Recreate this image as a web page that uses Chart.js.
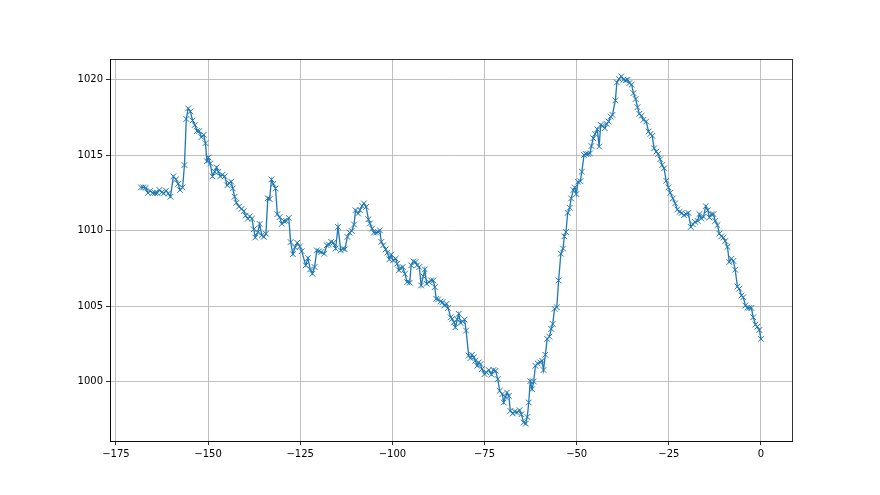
<!DOCTYPE html>
<html>
<head>
<meta charset="utf-8">
<script src="https://cdn.jsdelivr.net/npm/chart.js@4"></script>
<style>
  html, body { margin: 0; padding: 0; background: #fff; }
</style>
</head>
<body>
<canvas id="pressureChart" width="880" height="495"></canvas>
<script>
// hours relative to now
const hours = [
  -168.2, -167.6, -166.9, -166.3, -165.7, -165.0, -164.4, -163.8, -163.2, -162.5,
  -162.0, -161.4, -160.8, -160.2, -159.4, -158.7, -158.1, -157.6, -156.9, -156.4,
  -155.9, -155.4, -154.8, -154.2, -153.6, -153.0, -152.4, -151.8, -151.2, -150.7,
  -150.3, -149.9, -149.4, -148.8, -148.2, -147.7, -147.2, -146.7, -146.1, -145.5,
  -144.8, -144.3, -143.7, -143.3, -142.8, -142.3, -141.6, -140.9, -140.3, -139.8,
  -139.2, -138.7, -138.1, -137.6, -137.2, -136.5, -136.0, -135.4, -134.9, -134.3,
  -133.8, -133.3, -132.8, -132.3, -131.7, -131.2, -130.6, -130.0, -129.4, -128.8,
  -128.1, -127.6, -127.0, -126.4, -125.8, -125.1, -124.6,
  -123.5, -122.9, -122.3, -121.7, -121.1, -120.5, -119.9, -119.3, -118.5, -117.8,
  -117.2, -116.6, -116.0, -115.4, -114.75, -114.0, -113.4, -112.9, -112.2, -111.6,
  -111.05, -110.4, -110.0, -109.3, -108.8, -108.2, -107.7, -107.1, -106.5, -106.1,
  -105.5, -105.0, -104.4, -103.9, -103.4, -103.0, -102.5, -101.8, -101.4, -100.8,
  -100.3, -99.8, -99.1, -98.7, -98.2, -97.8, -97.2, -96.6, -96.0, -95.3,
  -94.9, -94.3, -93.7, -93.3, -92.7, -92.2, -91.6, -91.2, -90.7, -90.1,
  -89.5, -88.9, -88.5, -88.1, -87.6, -86.9, -86.4, -85.9, -85.3, -84.9,
  -84.2, -83.8, -83.3, -82.9, -82.4, -82.0, -81.5, -81.0, -80.4, -80.0,
  -79.3, -78.8, -78.4, -77.9, -77.5, -77.0, -76.6, -76.1, -75.7, -75.0,
  -74.5, -73.85, -73.1, -72.6, -72.0, -71.4, -70.9, -70.2, -69.8, -69.3,
  -68.9, -68.4, -68.0, -67.35, -66.8, -66.2, -65.5, -65.0, -64.4, -63.8,
  -63.4, -63.0, -62.6, -62.1, -61.65, -61.2, -60.6, -59.9, -59.4, -59.0,
  -58.5, -58.0, -57.4, -56.9, -56.5, -56.0, -55.4, -54.9, -54.3, -53.7,
  -53.35, -52.9, -52.45, -51.9, -51.5, -50.9, -50.55, -50.1, -49.65, -49.0,
  -48.6, -48.0, -47.5, -47.0, -46.4, -46.0, -45.5, -45.0, -44.4, -43.9,
  -43.5, -43.0, -42.4, -41.9, -41.35, -40.8, -40.3, -39.5,
  -39.1, -38.5, -37.9, -37.3, -36.75, -36.2, -35.7, -35.1, -34.6, -34.0,
  -33.5, -33.0, -32.4, -31.9, -31.15, -30.5, -30.0, -29.5, -29.0, -28.4,
  -27.9, -27.35, -26.8, -26.3, -25.7, -25.1, -24.6, -23.9, -23.3, -22.7,
  -22.1, -21.5, -20.9, -20.3, -19.7, -19.05, -18.5, -17.9, -17.2, -16.7,
  -16.2, -15.6, -15.0, -14.45, -14.0, -13.45, -12.9, -12.4, -11.8, -11.3,
  -10.75, -10.2, -9.7, -9.1, -8.6, -8.0, -7.5, -7.0, -6.4, -5.9,
  -5.3, -4.8, -4.25, -3.7, -3.15, -2.6, -2.1, -1.5, -1.0, -0.45,
  0
];

// pressure in hPa, same order as hours
const pressure = [
  1012.87, 1012.87, 1012.85, 1012.5, 1012.65, 1012.5, 1012.5, 1012.5, 1012.7, 1012.55,
  1012.47, 1012.65, 1012.47, 1012.25, 1013.6, 1013.4, 1013.1, 1012.7, 1012.87, 1014.35,
  1017.4, 1018.1, 1017.9, 1017.3, 1017.0, 1016.6, 1016.6, 1016.2, 1016.35, 1015.8,
  1014.6, 1014.85, 1014.45, 1013.6, 1013.9, 1014.2, 1013.9, 1013.6, 1013.7, 1013.6,
  1013.0, 1013.15, 1013.25, 1012.8, 1012.25, 1011.85, 1011.6, 1011.45, 1011.3, 1011.0,
  1010.8, 1010.95, 1010.8, 1010.1, 1009.55, 1009.9, 1010.45, 1009.7, 1009.6, 1009.8,
  1012.15, 1012.1, 1013.4, 1013.1, 1012.8, 1011.1, 1010.9, 1010.45, 1010.65, 1010.65,
  1010.85, 1009.25, 1008.45, 1008.9, 1009.2, 1008.95, 1008.65,
  1007.71, 1008.19, 1007.44, 1007.15, 1007.6, 1008.7, 1008.64, 1008.59, 1008.48, 1009.04,
  1009.08, 1009.26, 1009.21, 1008.82, 1010.25, 1008.7, 1008.82, 1008.77, 1009.59, 1009.88,
  1009.99, 1010.41, 1011.36, 1011.14, 1011.36, 1011.65, 1011.81, 1011.58, 1010.76, 1010.48,
  1010.14, 1009.88, 1009.88, 1009.92, 1010.03, 1009.26, 1009.04, 1008.77, 1008.55, 1008.11,
  1008.42, 1008.04, 1008.15, 1007.82, 1007.38, 1007.53, 1007.6, 1007.15, 1006.6, 1006.56,
  1007.71, 1007.97, 1007.93, 1007.71, 1007.6, 1006.38, 1006.98, 1007.44, 1006.49, 1006.6,
  1006.71, 1006.71, 1006.27, 1005.49, 1005.45, 1005.32, 1005.27, 1005.05, 1005.16, 1004.89,
  1004.27, 1004.16, 1003.94, 1003.61, 1004.12, 1004.5, 1003.9, 1003.99, 1004.12, 1003.39,
  1001.73, 1001.57, 1001.79, 1001.62, 1001.4, 1001.06, 1001.28, 1001.17, 1000.84, 1000.51,
  1000.62, 1000.78, 1000.47, 1000.78, 1000.73, 1000.18, 999.4, 999.18, 998.63, 999.0,
  999.29, 999.07, 998.07, 997.9, 998.03, 997.97, 998.12, 997.85, 997.3, 997.23,
  997.67, 998.63, 1000.04, 999.51, 1000.02, 1001.06, 1001.22, 1001.28, 1001.4, 1000.78,
  1001.79, 1002.84, 1002.99, 1003.5, 1003.83, 1004.83, 1004.94, 1006.71, 1008.48, 1008.82,
  1009.63, 1009.92, 1011.18, 1011.52, 1012.14, 1012.69, 1012.87, 1012.43, 1013.24, 1013.28,
  1013.91, 1015.02, 1015.08, 1015.08, 1015.12, 1015.61, 1016.12, 1016.41, 1016.72, 1015.57,
  1017.01, 1016.94, 1016.79, 1017.08, 1017.23, 1017.56, 1017.67, 1018.63,
  1019.82, 1020.04, 1020.22, 1020.0, 1019.96, 1020.0, 1019.78, 1019.67, 1019.11, 1018.72,
  1018.18, 1017.74, 1017.61, 1017.34, 1017.23, 1016.57, 1016.41, 1016.28, 1015.46, 1015.24,
  1015.08, 1014.73, 1014.35, 1014.13, 1013.31, 1012.87, 1012.51, 1012.14, 1011.81, 1011.41,
  1011.25, 1011.18, 1011.03, 1011.1, 1011.18, 1010.25, 1010.43, 1010.59, 1010.65, 1011.1,
  1010.81, 1010.92, 1011.63, 1011.36, 1010.88, 1011.1, 1011.1, 1010.65, 1010.37, 1009.81,
  1009.63, 1009.55, 1009.32, 1008.93, 1007.93, 1008.15, 1008.0, 1007.42, 1006.31, 1006.16,
  1005.71, 1005.6, 1005.05, 1004.89, 1004.89, 1004.89, 1004.27, 1003.79, 1003.65, 1003.43,
  1002.84
];

const xTicks = [-175, -150, -125, -100, -75, -50, -25, 0];
const yTicks = [1000, 1005, 1010, 1015, 1020];

const points = hours.map((h, i) => ({ x: h, y: pressure[i] }));

// matplotlib style minus sign on tick labels
const fmt = v => (v < 0 ? '\u2212' + Math.abs(v) : String(v));

// four spines around the axes
const frame = {
    id: 'frame',
    afterDraw(chart) {
        const a = chart.chartArea;
        const c = chart.ctx;
        c.save();
        c.strokeStyle = '#000';
        c.lineWidth = 0.8;
        c.strokeRect(a.left + 0.5, a.top + 0.5, a.right - a.left, a.bottom - a.top);
        c.restore();
    }
};

const tickFont = { family: 'DejaVu Sans', size: 10 };

new Chart(document.getElementById('pressureChart').getContext('2d'), {
    type: 'line',
    data: {
        datasets: [{
            data: points,
            borderColor: '#1f77b4',
            borderWidth: 1.3,
            pointStyle: 'crossRot',
            pointRadius: 4,
            pointBorderWidth: 1,
            pointBorderColor: '#1f77b4',
            pointBackgroundColor: '#1f77b4',
            tension: 0,
            fill: false
        }]
    },
    options: {
        responsive: false,
        animation: false,
        layout: { padding: { top: 59, right: 88, bottom: 0, left: 0 } },
        plugins: {
            legend: { display: false },
            tooltip: { enabled: false }
        },
        scales: {
            x: {
                type: 'linear',
                min: -176.6,
                max: 8.41,
                afterBuildTicks: s => { s.ticks = xTicks.map(v => ({ value: v })); },
                afterFit: s => { s.height = 54; },
                grid: { color: '#b0b0b0', lineWidth: 0.8, tickLength: 4, tickColor: '#000', tickWidth: 0.8 },
                border: { display: true, color: '#000', width: 0.8 },
                ticks: { font: tickFont, color: '#000', padding: 3, maxRotation: 0, callback: fmt }
            },
            y: {
                min: 996.08,
                max: 1021.37,
                afterBuildTicks: s => { s.ticks = yTicks.map(v => ({ value: v })); },
                afterFit: s => { s.width = 110; },
                grid: { color: '#b0b0b0', lineWidth: 0.8, tickLength: 4, tickColor: '#000', tickWidth: 0.8 },
                border: { display: true, color: '#000', width: 0.8 },
                ticks: { font: tickFont, color: '#000', padding: 3, callback: fmt }
            }
        }
    },
    plugins: [frame]
});
</script>
</body>
</html>
